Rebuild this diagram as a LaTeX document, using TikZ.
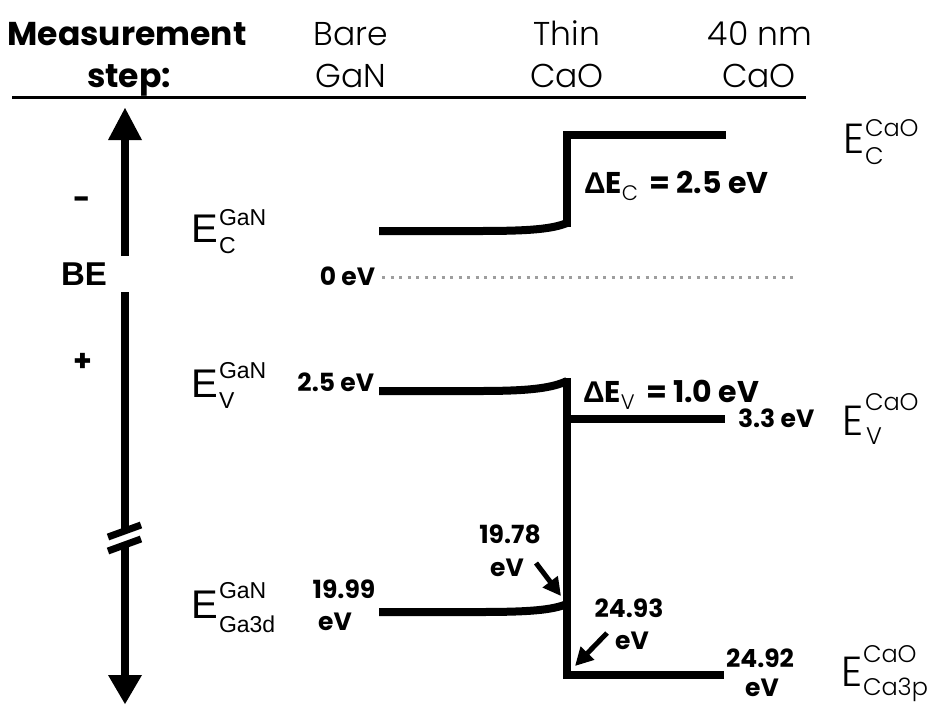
\documentclass[tikz,border=0pt]{standalone}
\usepackage{fontspec}
\setmainfont{Poppins}
\newfontfamily\arialf{Liberation Sans}
\IfFontExistsTF{Poppins Light}{\newfontfamily\thinf{Poppins Light}}{\newfontfamily\thinf{Poppins}}
\usetikzlibrary{arrows.meta}
\newcommand{\fs}[1]{\fontsize{#1}{#1}\selectfont}
\begin{document}
\begin{tikzpicture}[x=1pt,y=-1pt,
  txt/.style={inner sep=0pt, outer sep=0pt},
  hdr/.style={txt, font=\thinf\fs{33}, anchor=base},
  hdrb/.style={txt, font=\bfseries\fs{33}, anchor=base},
  num/.style={txt, font=\bfseries\fs{25}},
  dl/.style={txt, font=\bfseries\fs{30}, anchor=base west},
  eg/.style={txt, font=\arialf\fs{40}, anchor=base west},
  egs/.style={txt, font=\arialf\fs{23}, anchor=base west},
  ec/.style={txt, font=\thinf\fs{42}, anchor=base west},
  ecs/.style={txt, font=\thinf\fs{24}, anchor=base west},
  band/.style={line width=8pt},
  ptr/.style={line width=5pt, -{Triangle[length=18pt,width=18pt]}},
  brk/.style={line width=7pt},
]
\useasboundingbox (0,0) rectangle (933,704);

% header
\node[hdrb] (h1) at (127,45) {Measurement};
\node[hdrb] (h2) at (129,87) {step:};
\node[hdr] (h3) at (351,45) {Bare};
\node[hdr] (h4) at (351,87) {GaN};
\node[hdr] (h5) at (567,45) {Thin};
\node[hdr] (h6) at (567,87) {CaO};
\node[hdr] (h7) at (760,45) {40 nm};
\node[hdr] (h8) at (759,87) {CaO};
\coordinate (hl1) at (12,97);
\coordinate (hl2) at (806,97);
\draw[line width=3pt] (hl1) -- (hl2);

% BE axis
\fill (125,108) -- (142,140) -- (108,140) -- cycle;
\draw[band] (125,139) -- (125,256);
\node[txt, font=\arialf\bfseries\fs{33}, anchor=base] (be) at (84,285) {BE};
\draw[band] (125,292) -- (125,531);
\draw[band] (125,545) -- (125,676);
\draw[brk] (108,537) -- (141,525);
\draw[brk] (108,551) -- (141,539);
\fill (125,704) -- (142,675) -- (108,675) -- cycle;
\node[txt, font=\bfseries\fs{30}] (minus) at (82,203) {-};
\node[txt, font=\bfseries\fs{30}] (plus) at (83,362) {+};

% GaN labels
\node[eg] (ec) at (191,242) {E};
\node[egs] (ecsup) at (219,225) {GaN};
\node[egs] (ecsub) at (219,253) {C};
\node[eg] (ev) at (191,397) {E};
\node[egs] (evsup) at (219,378) {GaN};
\node[egs] (evsub) at (219,408) {V};
\node[eg] (eg3) at (191,618) {E};
\node[egs] (egsup) at (219,598) {GaN};
\node[egs] (egsub) at (219,632) {Ga3d};

% CaO labels
\node[ec] (cc) at (843,153) {E};
\node[ecs] (ccsup) at (865,136) {CaO};
\node[ecs] (ccsub) at (865,164) {C};
\node[ec] (cv) at (842,435) {E};
\node[ecs] (cvsup) at (865,410) {CaO};
\node[ecs] (cvsub) at (866,444) {V};
\node[ec] (cp) at (841,686) {E};
\node[ecs] (cpsup) at (863,662) {CaO};
\node[ecs] (cpsub) at (863,695) {Ca3p};

% bands
\draw[band] (379,231) -- (480,231) .. controls (530,231) and (552,229) .. (567,223);
\draw[band, line join=miter] (567,227) -- (567,135) -- (726,135);
\draw[band] (379,391) -- (480,391) .. controls (530,391) and (552,388) .. (567,381);
\draw[band, line join=miter] (567,378) -- (567,675) -- (724,675);
\draw[band] (567,419) -- (725,419);
\draw[band] (379,612) -- (480,612) .. controls (530,612) and (552,610) .. (567,604);
\draw[line width=3pt, color=black!38, dash pattern=on 3pt off 5.5pt] (382,277) -- (795,277);

% band labels
\node[dl] (dec) at (584,193) {{\arialf Δ}E\raisebox{-7pt}{\thinf\mdseries\fs{21}C}\,\ = 2.5 eV};
\node[dl] (dev) at (583,402) {{\arialf Δ}E\raisebox{-7pt}{\thinf\mdseries\fs{21}V}\,\ = 1.0 eV};
\node[num, anchor=base east] (z) at (375,285) {0 eV};
\node[num, anchor=base east] (v1) at (374,391) {2.5 eV};
\node[num, anchor=base west] (v2) at (738,427) {3.3 eV};
\node[num, anchor=base] (g1) at (344,598) {19.99};
\node[num, anchor=base] (g1b) at (335,630) {eV};
\node[num, anchor=base] (g2) at (510,543) {19.78};
\node[num, anchor=base] (g2b) at (507,576) {eV};
\node[num, anchor=base] (g3) at (629,617) {24.93};
\node[num, anchor=base] (g3b) at (632,649) {eV};
\node[num, anchor=base] (g4) at (760,667) {24.92};
\node[num, anchor=base] (g4b) at (762,696) {eV};

% pointer arrows
\coordinate (p1s) at (536,563);
\coordinate (p1e) at (561,596);
\coordinate (p2s) at (607,633);
\coordinate (p2e) at (575,666);
\draw[ptr] (p1s) -- (p1e);
\draw[ptr] (p2s) -- (p2e);
\end{tikzpicture}
\end{document}
